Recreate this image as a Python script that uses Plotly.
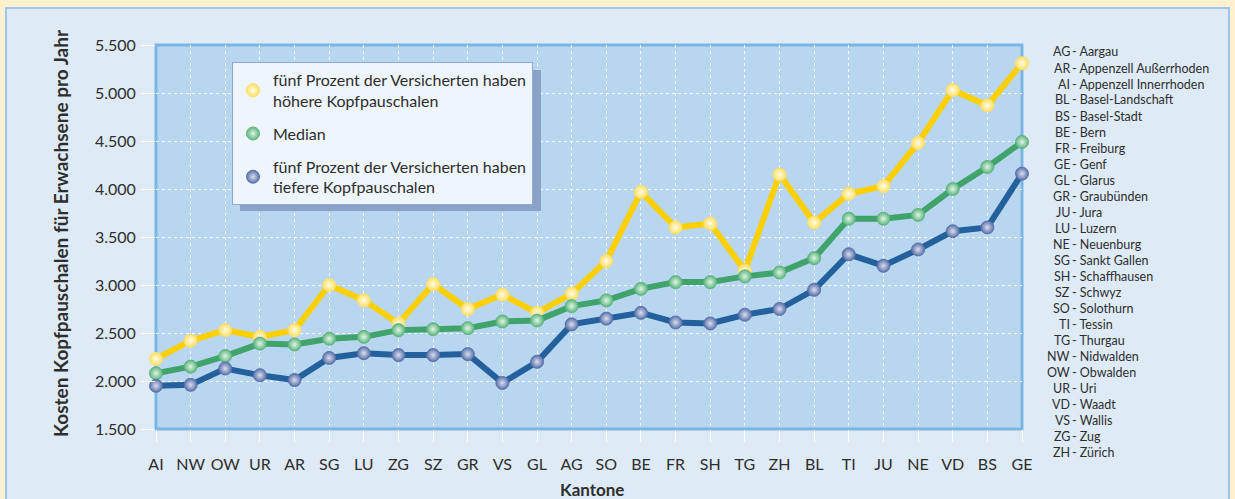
import plotly.graph_objects as go

kantone = ["AI", "NW", "OW", "UR", "AR", "SG", "LU", "ZG", "SZ", "GR", "VS", "GL", "AG",
           "SO", "BE", "FR", "SH", "TG", "ZH", "BL", "TI", "JU", "NE", "VD", "BS", "GE"]

hoch = [2230, 2420, 2530, 2460, 2530, 3000, 2840, 2600, 3010, 2750, 2900, 2710, 2910,
        3250, 3970, 3600, 3640, 3150, 4150, 3650, 3950, 4030, 4480, 5030, 4870, 5310]
median = [2080, 2150, 2260, 2390, 2380, 2440, 2460, 2530, 2540, 2550, 2620, 2630, 2780,
          2840, 2960, 3030, 3030, 3090, 3130, 3280, 3690, 3690, 3730, 4000, 4230, 4490]
tief = [1950, 1960, 2130, 2060, 2010, 2240, 2290, 2270, 2270, 2280, 1980, 2200, 2590,
        2650, 2710, 2610, 2600, 2690, 2750, 2950, 3320, 3200, 3370, 3560, 3600, 4160]

namen_hoch = "fünf Prozent der Versicherten haben<br>höhere Kopfpauschalen"
namen_median = "Median"
namen_tief = "fünf Prozent der Versicherten haben<br>tiefere Kopfpauschalen"

liste_kuerzel = ["AG", "AR", "AI", "BL", "BS", "BE", "FR", "GE", "GL", "GR", "JU", "LU", "NE",
                 "SG", "SH", "SZ", "SO", "TI", "TG", "NW", "OW", "UR", "VD", "VS", "ZG", "ZH"]
liste_namen = ["Aargau", "Appenzell Außerrhoden", "Appenzell Innerrhoden", "Basel-Landschaft",
               "Basel-Stadt", "Bern", "Freiburg", "Genf", "Glarus", "Graubünden", "Jura", "Luzern",
               "Neuenburg", "Sankt Gallen", "Schaffhausen", "Schwyz", "Solothurn", "Tessin",
               "Thurgau", "Nidwalden", "Obwalden", "Uri", "Waadt", "Wallis", "Zug", "Zürich"]

FONT = "Lato"
TXT = "#2e2e2e"

# pixel -> paper helpers (plot area: x 156..1022, y 45..429)
L, R, T, B = 156, 1022, 45, 429
def px(x):
    return (x - L) / (R - L)
def py(y):
    return (B - y) / (B - T)

series = [
    (hoch, namen_hoch, "#FFD000", "#FFE066", "#FFFBE6", "g1"),
    (median, namen_median, "#3FA36B", "#5DB57F", "#E0F4E4", "g2"),
    (tief, namen_tief, "#23609C", "#5A72AA", "#D8DEF0", "g3"),
]

fig = go.Figure()
for vals, name, lc, mc, gc, grp in series:
    fig.add_trace(go.Scatter(
        x=kantone, y=vals, mode="lines+markers", name=name, showlegend=False,
        line=dict(color=lc, width=6),
        marker=dict(size=13, color=mc, line=dict(color=mc, width=1),
                    gradient=dict(type="radial", color=gc)),
        cliponaxis=False, hoverinfo="x+y"))
for vals, name, lc, mc, gc, grp in series:
    fig.add_trace(go.Scatter(
        x=[None], y=[None], mode="markers", name=name, showlegend=True, legendgroup=grp,
        marker=dict(size=13, color=mc, line=dict(color=mc, width=1),
                    gradient=dict(type="radial", color=gc))))

shapes = [
    # outer panel
    dict(type="rect", xref="paper", yref="paper", x0=px(6), x1=px(1229), y0=py(515), y1=py(8),
         fillcolor="#DEEBF7", line=dict(color="#9FC5E8", width=2), layer="below"),
    # plot area
    dict(type="rect", xref="paper", yref="paper", x0=0, x1=1, y0=0, y1=1,
         fillcolor="#B8D6EF", line=dict(width=0), layer="below"),
    # plot area border
    dict(type="rect", xref="paper", yref="paper", x0=0, x1=1, y0=0, y1=1,
         fillcolor="rgba(0,0,0,0)", line=dict(color="#7BB5E3", width=3), layer="below"),
    # legend shadow
    dict(type="rect", xref="paper", yref="paper", x0=px(240), x1=px(541), y0=py(211), y1=py(70),
         fillcolor="#8AA2C8", line=dict(width=0), layer="above"),
]

annotations = [
    dict(text="<b>Kosten Kopfpauschalen für Erwachsene pro Jahr</b>", xref="paper", yref="paper",
         x=px(60), y=py(233), textangle=-90, showarrow=False, xanchor="center", yanchor="middle",
         font=dict(family=FONT, size=19, color=TXT)),
    dict(text="<b>Kantone</b>", xref="paper", yref="paper", x=px(592), y=py(489),
         showarrow=False, xanchor="center", yanchor="middle",
         font=dict(family=FONT, size=17, color=TXT)),
]
for i, (k, n) in enumerate(zip(liste_kuerzel, liste_namen)):
    yy = py(52 + i * 16.0)
    annotations.append(dict(text=k, xref="paper", yref="paper", x=px(1072), y=yy,
                            xanchor="right", yanchor="middle", showarrow=False,
                            font=dict(family=FONT, size=12.5, color=TXT)))
    annotations.append(dict(text="- " + n, xref="paper", yref="paper", x=px(1070), y=yy,
                            xanchor="left", yanchor="middle", showarrow=False,
                            font=dict(family=FONT, size=12.5, color=TXT)))

fig.update_layout(
    width=1235, height=499,
    margin=dict(l=L, r=1235 - R, t=T, b=499 - B),
    paper_bgcolor="#FDF1CF", plot_bgcolor="rgba(0,0,0,0)",
    separators=",.",
    font=dict(family=FONT, color=TXT),
    showlegend=True,
    legend=dict(x=px(232), y=py(62), xanchor="left", yanchor="top",
                bgcolor="#EFF5FC", bordercolor="#8FA9D2", borderwidth=1,
                font=dict(family=FONT, size=16, color=TXT),
                itemwidth=30, tracegroupgap=9),
    shapes=shapes, annotations=annotations,
)
fig.update_xaxes(range=[0, 25], showgrid=True, gridcolor="rgba(255,255,255,0.85)", griddash="dot",
                 gridwidth=1, ticks="outside", ticklen=12, tickcolor="white", zeroline=False,
                 showline=False, tickfont=dict(family=FONT, size=16, color=TXT),
                 ticklabelstandoff=9)
fig.update_yaxes(range=[1500, 5500], tickvals=[1500, 2000, 2500, 3000, 3500, 4000, 4500, 5000, 5500],
                 tickformat=",d", showgrid=True, gridcolor="rgba(255,255,255,0.85)", griddash="dot",
                 gridwidth=1, ticks="outside", ticklen=14, tickcolor="white", zeroline=False,
                 showline=False, tickfont=dict(family=FONT, size=16, color=TXT),
                 ticklabelstandoff=2)

fig.write_html("out.html", config={"displayModeBar": False},
               post_script="document.body.style.margin='0';document.body.style.overflow='hidden';")
